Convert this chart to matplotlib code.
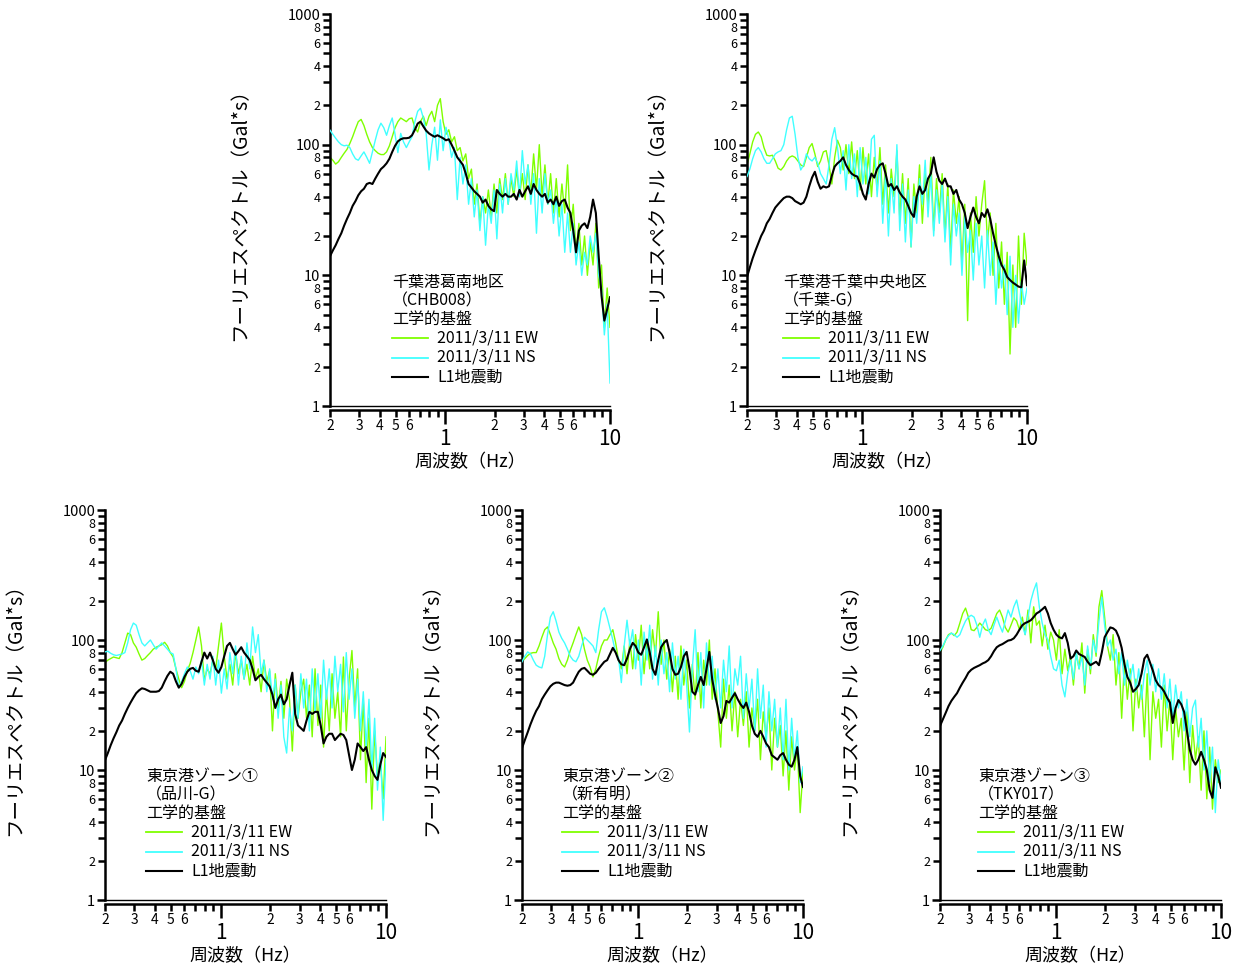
import numpy as np
import matplotlib
matplotlib.use('Agg')
import matplotlib.pyplot as plt
from matplotlib.ticker import FixedLocator, FuncFormatter

plt.rcParams['font.family'] = ['Noto Sans CJK JP', 'DejaVu Sans']

# frequency sample grid (Hz), shared by all series
FREQ = np.geomspace(0.2, 10.0, 100)

# ---------------- panel 1 : 千葉港葛南地区 ----------------
P1_EW = [80, 76, 71, 74, 80, 86, 92, 102, 115, 132,
         150, 156, 140, 120, 105, 95, 90, 86, 84, 84,
         88, 98, 115, 135, 150, 160, 155, 150, 158, 160,
         135, 125, 150, 165, 140, 165, 180, 150, 200, 225,
         150, 120, 130, 105, 115, 90, 95, 75, 85, 55,
         65, 35, 50, 25, 40, 30, 45, 28, 50, 30,
         55, 38, 60, 35, 55, 40, 65, 40, 60, 38,
         70, 42, 85, 45, 100, 40, 70, 35, 60, 30,
         55, 28, 50, 30, 70, 22, 35, 15, 25, 12,
         20, 10, 18, 12, 25, 8, 12, 4, 8, 4]
P1_NS = [129, 120, 112, 105, 100, 98, 99, 95, 85, 78,
         76, 82, 88, 80, 72, 88, 108, 130, 146, 135,
         118, 140, 160, 120, 87, 122, 105, 95, 105, 115,
         150, 180, 190, 160, 122, 64, 100, 136, 76, 155,
         90, 136, 110, 80, 95, 38, 80, 50, 70, 35,
         55, 28, 45, 22, 40, 17, 35, 25, 45, 19,
         50, 30, 55, 35, 60, 45, 75, 40, 90, 50,
         70, 35, 60, 21, 55, 30, 60, 35, 45, 25,
         40, 20, 35, 15, 30, 15, 25, 12, 18, 10,
         15, 12, 20, 15, 21, 10, 8, 3.5, 6, 1.5]
P1_L1 = [14, 15.5, 17, 19, 21, 24, 27, 30, 34, 37,
         41, 44, 46, 50, 51, 50, 55, 60, 65, 68,
         72, 78, 88, 98, 106, 110, 112, 112, 113, 118,
         130, 145, 150, 138, 128, 122, 118, 115, 118, 115,
         112, 108, 110, 100, 90, 80, 75, 70, 60, 50,
         47, 44, 42, 40, 36, 38, 34, 32, 31, 45,
         42, 40, 42, 40, 40, 42, 38, 45, 40, 44,
         48, 42, 50, 45, 42, 40, 42, 36, 38, 35,
         40, 34, 37, 38, 33, 30, 22, 15, 22, 24,
         25, 23, 28, 38, 30, 14, 7, 4.5, 5.5, 6.8]

# ---------------- panel 2 : 千葉港千葉中央地区 ----------------
P2_EW = [70, 85, 105, 120, 125, 115, 95, 83, 82, 83,
         75, 66, 64, 68, 75, 80, 82, 80, 75, 70,
         68, 80, 95, 102, 85, 68, 75, 88, 90, 70,
         50, 80, 108, 95, 64, 100, 60, 105, 55, 90,
         45, 95, 50, 85, 40, 80, 45, 95, 35, 70,
         30, 65, 40, 90, 28, 60, 25, 55, 16.5, 50,
         30, 70, 25, 60, 35, 80, 22, 55, 30, 60,
         20, 50, 15, 45, 25, 40, 12, 35, 4.5, 30,
         15, 40, 20, 35, 53, 18, 30, 10, 25, 8,
         18, 6, 15, 2.5, 12, 4, 20, 6, 21, 12]
P2_NS = [57, 65, 78, 90, 95, 88, 78, 72, 72, 78,
         85, 88, 90, 100, 130, 160, 165, 120, 80, 64,
         70, 85, 78, 75, 80, 72, 60, 55, 50, 70,
         110, 135, 95, 60, 90, 45, 100, 55, 85, 40,
         95, 50, 80, 42, 110, 118, 40, 75, 25, 60,
         20, 55, 30, 100, 22, 50, 18, 45, 16.5, 40,
         25, 55, 35, 76, 28, 60, 20, 45, 25, 50,
         18, 40, 12, 35, 20, 30, 10, 28, 15, 22,
         9.2, 25, 12, 20, 8, 22, 10, 18, 6, 15,
         8, 12, 5, 14, 4, 10, 4.3, 9, 6, 8]
P2_L1 = [9.7, 11.5, 13.5, 15.5, 17.6, 20, 22, 25, 27, 30,
         33, 35, 37, 39, 40, 40, 39, 37, 36, 35,
         36, 40, 48, 56, 62, 52, 46, 48, 47, 48,
         58, 68, 72, 75, 80, 70, 64, 60, 58, 57,
         50, 42, 38, 50, 60, 56, 65, 70, 72, 60,
         48, 50, 45, 48, 43, 40, 38, 34, 30, 28,
         40, 48, 42, 45, 55, 60, 80, 62, 53, 50,
         55, 48, 48, 42, 45, 38, 35, 30, 23, 28,
         33, 28, 25, 30, 28, 32, 27, 21, 17, 14,
         12, 11, 9.7, 9.2, 8.8, 8.5, 8.2, 8.1, 13, 8.4]

# ---------------- panel 3 : 東京港ゾーン① ----------------
P3_EW = [67, 70, 72, 74, 73, 72, 80, 95, 113, 110,
         95, 88, 78, 70, 72, 76, 80, 85, 88, 90,
         92, 96, 90, 80, 74, 60, 50, 43, 48, 58,
         66, 80, 100, 126, 90, 49, 60, 55, 70, 60,
         90, 135, 75, 50, 65, 45, 80, 55, 70, 50,
         65, 45, 75, 50, 60, 40, 70, 48, 58, 20,
         55, 30, 48, 25, 50, 35, 14, 45, 25, 40,
         50, 25, 45, 18, 60, 22, 45, 15, 40, 20,
         55, 25, 40, 18, 74, 20, 50, 83, 30, 60,
         12, 35, 8, 25, 5, 20, 9, 12, 6, 18]
P3_NS = [81, 82, 79, 77, 76, 77, 78, 80, 95, 120,
         135, 130, 110, 95, 90, 95, 100, 92, 85, 90,
         95, 90, 85, 80, 78, 60, 43, 48, 55, 62,
         58, 50, 62, 55, 70, 45, 65, 50, 75, 45,
         70, 39, 60, 42, 80, 55, 90, 45, 75, 50,
         95, 60, 126, 80, 110, 55, 70, 40, 60, 35,
         50, 25, 45, 18, 13.5, 30, 20, 45, 25, 55,
         30, 50, 20, 60, 28, 55, 25, 70, 35, 60,
         30, 75, 40, 65, 28, 80, 35, 60, 25, 50,
         20, 40, 15, 35, 10, 25, 7, 15, 4.1, 12]
P3_L1 = [11.9, 13.5, 15.5, 17.5, 19.5, 22, 24, 27, 30, 33,
         36, 39, 41, 42.5, 42, 41, 40, 40, 40, 40.5,
         43, 48, 53, 57, 55, 48, 43, 46, 52, 57,
         60, 61, 58, 57, 68, 80, 72, 80, 70, 60,
         56, 62, 75, 90, 95, 85, 77, 82, 88, 80,
         75, 70, 60, 49, 52, 54, 50, 47, 44, 38,
         30, 35, 38, 32, 35, 45, 56, 27, 22, 21,
         20, 24, 28, 27, 28, 28, 22, 16, 18, 19,
         19, 17, 18, 19, 18.6, 17, 13, 10, 12, 16,
         15, 14, 15, 12, 10, 9, 8.4, 11, 13.5, 12.6]

# ---------------- panel 4 : 東京港ゾーン② ----------------
P4_EW = [68, 72, 76, 79, 80, 80, 90, 105, 120, 126,
         110, 95, 85, 72, 65, 62, 70, 83, 95, 110,
         126, 110, 85, 70, 62, 52, 60, 75, 90, 100,
         100, 110, 120, 95, 70, 60, 90, 55, 100, 60,
         110, 70, 130, 55, 100, 60, 120, 75, 165, 65,
         100, 50, 85, 40, 75, 35, 90, 45, 70, 30,
         65, 35, 80, 30, 70, 45, 100, 35, 60, 28,
         15, 50, 25, 45, 20, 40, 18, 35, 22, 40,
         15, 30, 20, 35, 12, 28, 18, 30, 10, 25,
         15, 22, 9, 20, 7, 18, 10, 15, 4.7, 10]
P4_NS = [68, 75, 81, 78, 70, 64, 62, 61, 75, 110,
         150, 165, 140, 115, 103, 95, 85, 75, 70, 68,
         75, 90, 105, 100, 95, 90, 80, 120, 165, 177,
         150, 123, 100, 80, 73, 47, 90, 142, 90, 120,
         60, 100, 45, 115, 70, 130, 50, 90, 45, 100,
         55, 80, 40, 95, 50, 75, 35, 85, 45, 19.6,
         60, 120, 40, 80, 30, 95, 45, 75, 35, 60,
         30, 70, 40, 90, 30, 60, 45, 75, 25, 55,
         30, 50, 20, 60, 25, 45, 15, 40, 20, 35,
         15, 30, 12, 35, 10, 25, 12, 20, 8, 10.6]
P4_L1 = [14.7, 17, 19.5, 22.5, 25.5, 28.5, 31, 35, 38, 41,
         44, 46, 47, 47, 46, 45, 44.5, 45, 47, 52,
         57, 60, 61, 58, 55, 54, 56, 60, 64, 68,
         70, 78, 87, 80, 70, 65, 64, 72, 85, 95,
         90, 80, 77, 88, 101, 80, 60, 54, 70, 88,
         95, 100, 80, 60, 54, 55, 62, 75, 81, 60,
         40, 38, 45, 52, 45, 60, 81, 50, 38, 30,
         23, 26, 34, 33, 36, 39, 35, 32, 30, 33,
         28, 22, 19, 18, 20, 18, 16, 15, 13, 12.5,
         12, 13, 13.5, 12, 11, 10.6, 12, 15, 9, 7.4]

# ---------------- panel 5 : 東京港ゾーン③ ----------------
P5_EW = [79.5, 88, 100, 110, 113, 108, 115, 135, 160, 176,
         150, 120, 118, 125, 135, 128, 120, 118, 123, 140,
         160, 170, 150, 125, 115, 130, 148, 140, 120, 150,
         110, 170, 95, 180, 130, 140, 90, 130, 85, 115,
         100, 70, 120, 55, 85, 58, 75, 45, 80, 60,
         95, 39, 85, 55, 110, 75, 180, 240, 150, 90,
         70, 110, 45, 80, 25, 70, 35, 60, 20, 50,
         30, 45, 18, 55, 12, 40, 25, 35, 15, 45,
         20, 35, 12, 30, 18, 25, 10, 28, 8, 22,
         12, 18, 7, 20, 6, 15, 5, 12, 8, 10]
P5_NS = [83, 90, 100, 108, 113, 110, 105, 110, 125, 140,
         150, 155, 150, 130, 105, 130, 145, 120, 110, 130,
         150, 130, 115, 140, 170, 150, 180, 203, 160, 130,
         110, 150, 200, 240, 275, 180, 135, 110, 100, 75,
         60, 58, 70, 45, 36.5, 55, 70, 50, 80, 60,
         75, 45, 90, 60, 100, 80, 140, 213, 130, 90,
         100, 70, 85, 55, 80, 45, 70, 50, 65, 40,
         60, 35, 55, 70, 45, 65, 40, 60, 35, 55,
         30, 50, 25, 45, 30, 40, 20, 35, 18, 30,
         34.5, 15, 25, 10, 20, 8, 15, 4.7, 12, 8]
P5_L1 = [21.8, 24.5, 27.5, 31, 34, 36.5, 39, 43, 47, 51,
         56, 59, 61, 62.5, 64, 66, 67.5, 70, 75, 82,
         88, 91, 93, 96, 99, 100, 103, 110, 120, 130,
         135, 138, 142, 150, 160, 165, 172, 180, 160, 135,
         120, 110, 105, 103, 113, 95, 72, 75, 83, 78,
         76, 74, 68, 64, 66, 68, 64, 80, 105, 115,
         125, 123, 118, 105, 87, 65, 52, 47, 40, 42,
         45, 55, 72, 77, 67, 58, 49, 45, 43, 40,
         36, 33, 23, 30, 34.5, 32, 28, 20, 14.3, 12,
         11, 12, 13.8, 12, 10, 7, 6.1, 10.5, 9, 7.3]

TITLES = ['千葉港葛南地区', '千葉港千葉中央地区', '東京港ゾーン①', '東京港ゾーン②', '東京港ゾーン③']
SUBTITLES = ['（CHB008）', '（千葉-G）', '（品川-G）', '（新有明）', '（TKY017）']
BASE_LABEL = '工学的基盤'
SERIES_LABELS = ['2011/3/11 EW', '2011/3/11 NS', 'L1地震動']
EW = [P1_EW, P2_EW, P3_EW, P4_EW, P5_EW]
NS = [P1_NS, P2_NS, P3_NS, P4_NS, P5_NS]
L1 = [P1_L1, P2_L1, P3_L1, P4_L1, P5_L1]

XLABEL = '周波数（Hz）'
YLABEL = 'フーリエスペクトル（Gal*s）'

COL_EW = '#7fff00'
COL_NS = '#40ffff'
COL_L1 = '#000000'

W, H = 1235, 968
fig = plt.figure(figsize=(W / 100, H / 100), dpi=100)

# axes rectangles in pixels: (left, top, right, bottom)
RECTS = [(330, 14, 610, 406), (747, 14, 1027, 406),
         (105, 510, 386, 900), (522, 510, 803, 900), (940, 510, 1221, 900)]
TEXT_X = [62, 36, 41, 40, 38]  # pixel offset of annotation block from left of axes

x_minor = [0.2, 0.3, 0.4, 0.5, 0.6, 0.7, 0.8, 0.9, 2, 3, 4, 5, 6, 7, 8, 9]
x_minor_lab = {0.2: '2', 0.3: '3', 0.4: '4', 0.5: '5', 0.6: '6',
               2: '2', 3: '3', 4: '4', 5: '5', 6: '6'}
y_minor = [m * d for d in (1, 10, 100) for m in range(2, 10)]


def xminfmt(v, pos):
    for k, s in x_minor_lab.items():
        if abs(v - k) < 1e-6:
            return s
    return ''


def yminfmt(v, pos):
    m = v / 10 ** np.floor(np.log10(v) + 1e-9)
    mi = int(round(m))
    return str(mi) if mi in (2, 4, 6, 8) else ''


def ymajfmt(v, pos):
    return str(int(round(v)))


for k in range(5):
    l, t, r, b = RECTS[k]
    ax = fig.add_axes([l / W, 1 - b / H, (r - l) / W, (b - t) / H])
    ax.plot(FREQ, EW[k], color=COL_EW, lw=1.0, zorder=2)
    ax.plot(FREQ, NS[k], color=COL_NS, lw=1.0, zorder=3)
    ax.plot(FREQ, L1[k], color=COL_L1, lw=1.5, zorder=4)
    ax.set_xscale('log')
    ax.set_yscale('log')
    ax.set_xlim(0.2, 10)
    ax.set_ylim(1, 1000)
    for s in ('top', 'right'):
        ax.spines[s].set_visible(False)
    ax.spines['left'].set_linewidth(1.8)
    ax.spines['bottom'].set_linewidth(1.8)
    ax.spines['bottom'].set_position(('outward', 3))
    ax.axhline(1, color='black', lw=1.0, clip_on=False, zorder=5)

    ax.xaxis.set_major_locator(FixedLocator([1, 10]))
    ax.xaxis.set_major_formatter(FuncFormatter(lambda v, p: '1' if v < 5 else '10'))
    ax.xaxis.set_minor_locator(FixedLocator(x_minor))
    ax.xaxis.set_minor_formatter(FuncFormatter(xminfmt))
    ax.yaxis.set_major_locator(FixedLocator([1, 10, 100, 1000]))
    ax.yaxis.set_major_formatter(FuncFormatter(ymajfmt))
    ax.yaxis.set_minor_locator(FixedLocator(y_minor))
    ax.yaxis.set_minor_formatter(FuncFormatter(yminfmt))

    ax.tick_params(axis='x', which='major', length=10, width=1.8, labelsize=15, pad=2.5)
    ax.tick_params(axis='x', which='minor', length=5, width=1.8, labelsize=10, pad=1)
    ax.tick_params(axis='y', which='major', length=6, width=1.8, labelsize=10.5, pad=1)
    ax.tick_params(axis='y', which='minor', length=5, width=1.8, labelsize=9, pad=2)

    ax.set_xlabel(XLABEL, fontsize=13)
    ax.xaxis.label.set_va('center')
    ax.xaxis.set_label_coords(0.5, -56 / (b - t))
    ax.set_ylabel(YLABEL, fontsize=14)
    ax.yaxis.label.set_va('center')
    ax.yaxis.set_label_coords(-90 / (r - l), 0.5)

    tx = TEXT_X[k] / (r - l)
    hh = (b - t)
    fs = 11.5
    ax.text(tx, 124 / hh, TITLES[k], transform=ax.transAxes, fontsize=fs, va='center', ha='left')
    ax.text(tx, 105 / hh, SUBTITLES[k], transform=ax.transAxes, fontsize=fs, va='center', ha='left')
    ax.text(tx, 87 / hh, BASE_LABEL, transform=ax.transAxes, fontsize=fs, va='center', ha='left')
    for j, (col, lab) in enumerate(zip((COL_EW, COL_NS, COL_L1), SERIES_LABELS)):
        yy = (68 - 19.5 * j) / hh
        ax.plot([tx, tx + 36 / (r - l)], [yy, yy], color=col, lw=1.3 if j < 2 else 1.5,
                transform=ax.transAxes, clip_on=False)
        ax.text(tx + 45 / (r - l), yy, lab, transform=ax.transAxes, fontsize=fs,
                va='center', ha='left')

fig.savefig('out.png', dpi=100, facecolor='white')
